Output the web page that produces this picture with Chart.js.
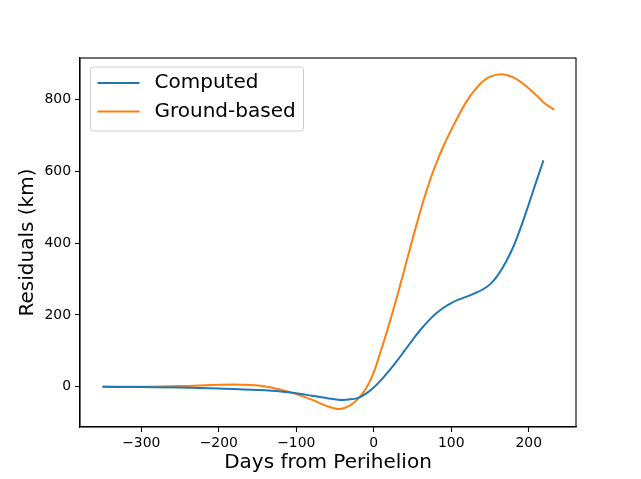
<!DOCTYPE html>
<html>
<head>
<meta charset="utf-8">
<script src="https://cdn.jsdelivr.net/npm/chart.js@4/dist/chart.umd.min.js"></script>
<style>
  html, body { margin: 0; padding: 0; background: #fff; }
  #wrap { width: 641px; height: 479px; }
</style>
</head>
<body>
<div id="wrap"><canvas id="chart" width="641" height="479"></canvas></div>
<script>
// Data
const computedDays = [-350, -300, -250, -200, -150, -120, -100, -80, -60, -40, -30, -20, -10, 0, 10, 20, 30, 40, 50, 60, 70, 80, 90, 100, 110, 120, 130, 140, 150, 160, 170, 180, 190, 200, 210, 219];
const computedKm = [0, -1, -2, -5, -9, -13, -18, -25, -32, -37, -35, -31, -19, -2, 20, 45, 72, 101, 130, 158, 182, 203, 220, 233, 243, 251, 260, 270, 285, 310, 345, 389, 445, 508, 573, 630];

const groundDays = [-350, -300, -250, -180, -140, -120, -100, -80, -60, -45, -30, -20, -10, 0, 10, 20, 30, 40, 50, 60, 70, 80, 90, 100, 110, 120, 130, 140, 150, 165, 180, 190, 200, 210, 220, 233];
const groundKm = [0, 0, 2, 6, 1, -8, -20, -36, -54, -62, -51, -33, -5, 40, 105, 175, 250, 330, 410, 488, 558, 618, 670, 715, 757, 795, 825, 848, 863, 870, 861, 848, 830, 811, 790, 771];

const xTicks = [-300, -200, -100, 0, 100, 200];
const yTicks = [0, 200, 400, 600, 800];

const seriesNames = ["Computed", "Ground-based"];
const seriesColors = ["#1f77b4", "#ff7f0e"];

function toPoints(xs, ys) {
  return xs.map((x, i) => ({ x: x, y: ys[i] }));
}

function minusSign(v) {
  return String(v).replace("-", "\u2212");
}

// Box around plot area (matplotlib spines)
const framePlugin = {
  id: "frame",
  afterDatasetsDraw(chart) {
    const { ctx, chartArea } = chart;
    ctx.save();
    ctx.strokeStyle = "#000";
    ctx.lineWidth = 1.1;
    ctx.strokeRect(chartArea.left, chartArea.top, chartArea.right - chartArea.left, chartArea.bottom - chartArea.top);
    ctx.restore();
  },
};

// Legend inside the axes, upper left
const innerLegend = {
  id: "innerLegend",
  afterDraw(chart) {
    const { ctx, chartArea } = chart;
    const x0 = chartArea.left + 10.5;
    const y0 = chartArea.top + 9;
    const w = 213;
    const h = 64;
    ctx.save();
    ctx.fillStyle = "rgba(255,255,255,0.8)";
    ctx.strokeStyle = "#cccccc";
    ctx.lineWidth = 1;
    ctx.beginPath();
    ctx.roundRect(x0, y0, w, h, 3);
    ctx.fill();
    ctx.stroke();
    ctx.font = "20px 'DejaVu Sans'";
    ctx.textBaseline = "middle";
    chart.data.datasets.forEach((ds, i) => {
      const ly = y0 + 16 + i * 28.5;
      ctx.strokeStyle = ds.borderColor;
      ctx.lineWidth = 2;
      ctx.beginPath();
      ctx.moveTo(x0 + 7, ly);
      ctx.lineTo(x0 + 49, ly);
      ctx.stroke();
      ctx.fillStyle = "#000";
      ctx.fillText(ds.label, x0 + 64, ly);
    });
    ctx.restore();
  },
};

const ctx = document.getElementById("chart").getContext("2d");
new Chart(ctx, {
  type: "line",
  data: {
    datasets: [
      {
        label: seriesNames[0],
        data: toPoints(computedDays, computedKm),
        borderColor: seriesColors[0],
        backgroundColor: seriesColors[0],
        borderWidth: 2,
        pointRadius: 0,
        cubicInterpolationMode: "monotone",
        fill: false,
      },
      {
        label: seriesNames[1],
        data: toPoints(groundDays, groundKm),
        borderColor: seriesColors[1],
        backgroundColor: seriesColors[1],
        borderWidth: 2,
        pointRadius: 0,
        cubicInterpolationMode: "monotone",
        fill: false,
      },
    ],
  },
  options: {
    responsive: false,
    animation: false,
    events: [],
    layout: { padding: { top: 58, right: 65, bottom: 0, left: 0 } },
    plugins: {
      legend: { display: false },
      tooltip: { enabled: false },
    },
    scales: {
      x: {
        type: "linear",
        min: -379,
        max: 261,
        afterBuildTicks: (scale) => {
          scale.ticks = xTicks.map((v) => ({ value: v }));
        },
        afterFit: (scale) => {
          scale.height = 52;
        },
        grid: { display: true, drawOnChartArea: false, drawTicks: true, tickLength: 5, tickColor: "#000", tickWidth: 1.1 },
        border: { display: true, color: "#000", width: 1.1 },
        ticks: {
          color: "#000",
          padding: 3,
          maxRotation: 0,
          font: { family: "'DejaVu Sans'", size: 13.9 },
          callback: (v) => minusSign(v),
        },
        title: {
          display: true,
          text: "Days from Perihelion",
          color: "#000",
          font: { family: "'DejaVu Sans'", size: 20 },
          padding: { top: 0, bottom: 4 },
        },
      },
      y: {
        type: "linear",
        min: -112,
        max: 915,
        afterBuildTicks: (scale) => {
          scale.ticks = yTicks.map((v) => ({ value: v }));
        },
        afterFit: (scale) => {
          scale.width = 80;
        },
        grid: { display: true, drawOnChartArea: false, drawTicks: true, tickLength: 5, tickColor: "#000", tickWidth: 1.1 },
        border: { display: true, color: "#000", width: 1.1 },
        ticks: {
          color: "#000",
          padding: 4,
          font: { family: "'DejaVu Sans'", size: 13.9 },
          callback: (v) => minusSign(v),
        },
        title: {
          display: true,
          text: "Residuals (km)",
          color: "#000",
          font: { family: "'DejaVu Sans'", size: 20 },
          padding: { top: 16, bottom: 0 },
        },
      },
    },
  },
  plugins: [framePlugin, innerLegend],
});
</script>
</body>
</html>
